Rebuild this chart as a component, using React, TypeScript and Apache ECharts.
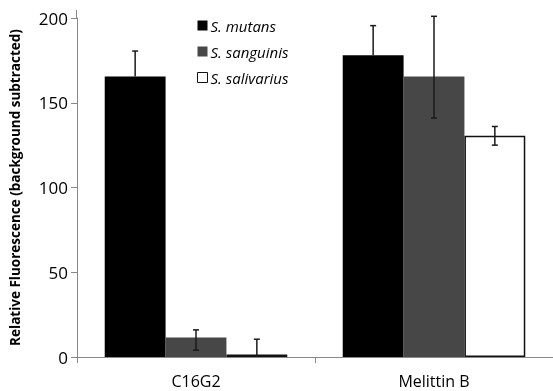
import React, { useEffect, useRef } from "react";
import * as echarts from "echarts";

const categories = ["C16G2", "Melittin B"];
const seriesNames = ["S. mutans", "S. sanguinis", "S. salivarius"];
const mutans = [165.5, 178];
const sanguinis = [11.5, 165.5];
const salivarius = [1.5, 130.5];
const mutansLow = [165.5, 178];
const mutansHigh = [180.5, 195.5];
const sanguinisLow = [4, 141];
const sanguinisHigh = [16, 201];
const salivariusLow = [0, 125];
const salivariusHigh = [10.5, 136];
const yTicks = [0, 50, 100, 150, 200];

const FONT = "Open Sans";
const GAP = 0.233;

export default function App() {
  const ref = useRef<HTMLDivElement>(null);
  useEffect(() => {
    if (!ref.current) return;
    const chart = echarts.init(ref.current, undefined, { renderer: "svg" });
    const values = [mutans, sanguinis, salivarius];
    const lows = [mutansLow, sanguinisLow, salivariusLow];
    const highs = [mutansHigh, sanguinisHigh, salivariusHigh];
    const colors = ["#000000", "#474747", "#ffffff"];
    const barSeries = values.map((v, i) => ({
      name: seriesNames[i],
      type: "bar",
      data: v,
      barGap: "0%",
      barCategoryGap: GAP * 100 + "%",
      itemStyle: {
        color: colors[i],
        borderColor: i === 2 ? "#111" : colors[i],
        borderWidth: i === 2 ? 1.5 : 0,
      },
      z: 2,
    }));
    const errSeries = values.map((_, i) => ({
      type: "custom",
      name: "err" + i,
      z: 5,
      data: categories.map((_, c) => [c, lows[i][c], highs[i][c]]),
      encode: { x: 0, y: [1, 2] },
      renderItem: (params: any, api: any) => {
        const c = api.value(0);
        const lo = api.coord([c, api.value(1)]);
        const hi = api.coord([c, api.value(2)]);
        const catW = api.size([1, 0])[0];
        const bw = (catW * (1 - GAP)) / 3;
        const x = lo[0] + (i - 1) * bw;
        const cap = 3;
        const style = { stroke: "#1a1a1a", lineWidth: 1.5 };
        const children: any[] = [
          { type: "line", shape: { x1: x, y1: lo[1], x2: x, y2: hi[1] }, style },
          { type: "line", shape: { x1: x - cap, y1: hi[1], x2: x + cap, y2: hi[1] }, style },
        ];
        if (i !== 0 && api.value(1) > 0) {
          children.push({ type: "line", shape: { x1: x - cap, y1: lo[1], x2: x + cap, y2: lo[1] }, style });
        }
        return { type: "group", children };
      },
    }));
    chart.setOption({
      animation: false,
      textStyle: { fontFamily: FONT },
      grid: { left: 76, right: -3, top: 18, bottom: 34, containLabel: false },
      graphic: [
        { type: "line", shape: { x1: 76.5, y1: 10, x2: 76.5, y2: 18 }, style: { stroke: "#888", lineWidth: 1 } },
      ],
      legend: {
        data: seriesNames.map((n) => ({
          name: n,
          itemStyle: n === "S. salivarius" ? { borderColor: "#111", borderWidth: 1 } : {},
        })),
        orient: "vertical",
        left: 192,
        top: 13,
        itemWidth: 10,
        itemHeight: 10,
        itemGap: 11,
        icon: "rect",
        textStyle: { fontFamily: FONT, fontStyle: "italic", fontSize: 15, color: "#000", padding: [0, 0, 0, -2] },
      },
      xAxis: {
        type: "category",
        data: categories,
        axisLine: { lineStyle: { color: "#888", width: 1 } },
        axisTick: { show: true, length: 6, lineStyle: { color: "#888" } },
        axisLabel: { color: "#000", fontSize: 16, margin: 16, fontFamily: FONT },
      },
      yAxis: {
        type: "value",
        min: yTicks[0],
        max: yTicks[yTicks.length - 1],
        interval: 50,
        name: "Relative Fluorescence (background subtracted)",
        nameLocation: "middle",
        nameGap: 55,
        nameTextStyle: { fontWeight: "bold", fontSize: 13.5, color: "#000", fontFamily: FONT },
        axisLine: { show: true, lineStyle: { color: "#888", width: 1 } },
        axisTick: { show: true, length: 6, lineStyle: { color: "#888" } },
        axisLabel: { color: "#000", fontSize: 17, margin: 9, fontFamily: FONT },
        splitLine: { show: false },
      },
      series: [...barSeries, ...errSeries],
    });
    return () => chart.dispose();
  }, []);
  return <div ref={ref} style={{ width: 553, height: 391, position: "fixed", left: 0, top: 0 }} />;
}
